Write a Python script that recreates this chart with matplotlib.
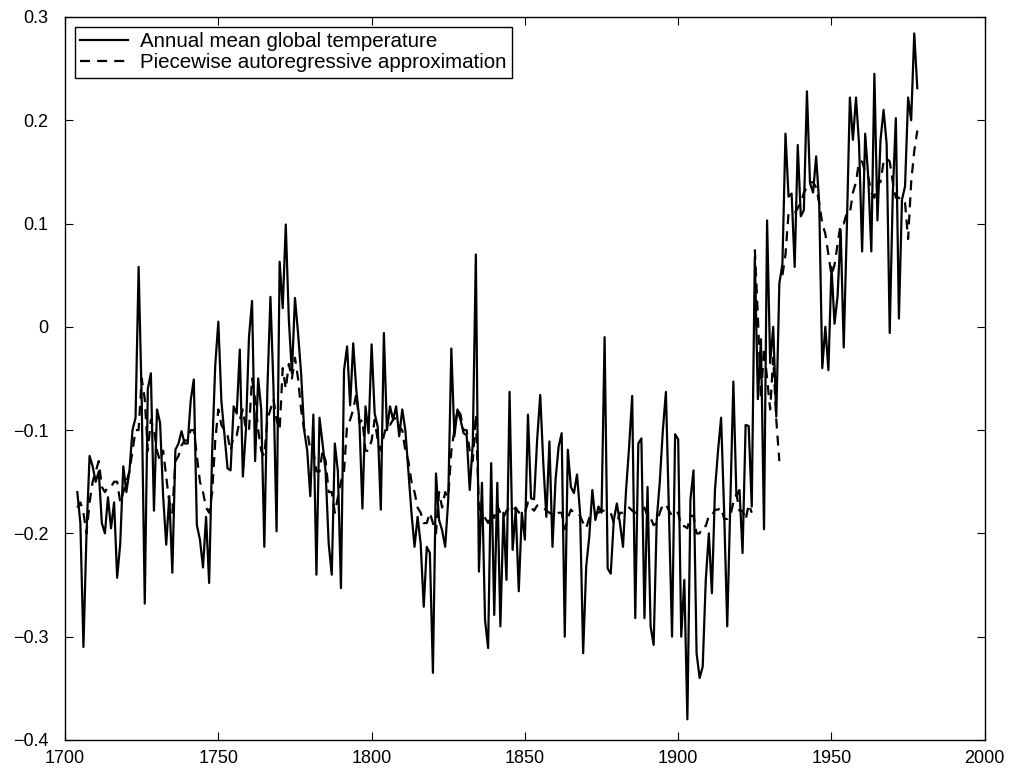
import numpy as np
import matplotlib
matplotlib.use("Agg")
import matplotlib.pyplot as plt

plt.rcParams["font.family"] = ["Liberation Sans", "DejaVu Sans"]

START_YEAR = 1704

# annual mean global temperature anomaly, one value per year from START_YEAR
temperature = [
    -0.16, -0.19, -0.31, -0.20, -0.125, -0.135, -0.15, -0.14, -0.19, -0.20,      # 1704
    -0.165, -0.195, -0.17, -0.243, -0.21, -0.135, -0.16, -0.14, -0.10, -0.088,   # 1714
    0.058, -0.07, -0.268, -0.06, -0.045, -0.178, -0.08, -0.093, -0.164, -0.211,  # 1724
    -0.164, -0.238, -0.119, -0.113, -0.101, -0.113, -0.113, -0.071, -0.051, -0.192,  # 1734
    -0.206, -0.233, -0.184, -0.248, -0.119, -0.037, 0.005, -0.072, -0.105, -0.137,   # 1744
    -0.139, -0.077, -0.084, -0.022, -0.145, -0.10, -0.01, 0.025, -0.13, -0.05,   # 1754
    -0.08, -0.213, -0.06, 0.029, -0.06, -0.198, 0.063, 0.018, 0.099, 0.007,      # 1764
    -0.045, 0.028, -0.006, -0.045, -0.10, -0.12, -0.164, -0.085, -0.24, -0.088,  # 1774
    -0.113, -0.14, -0.21, -0.24, -0.113, -0.14, -0.253, -0.042, -0.019, -0.076,  # 1784
    -0.016, -0.061, -0.09, -0.176, -0.077, -0.103, -0.017, -0.084, -0.097, -0.177,  # 1794
    -0.006, -0.10, -0.077, -0.09, -0.077, -0.106, -0.08, -0.10, -0.14, -0.18,    # 1804
    -0.213, -0.184, -0.21, -0.271, -0.213, -0.219, -0.335, -0.142, -0.187, -0.197,  # 1814
    -0.213, -0.167, -0.021, -0.106, -0.08, -0.09, -0.103, -0.105, -0.158, -0.113,   # 1824
    0.07, -0.237, -0.151, -0.284, -0.311, -0.132, -0.279, -0.151, -0.29, -0.18,  # 1834
    -0.245, -0.063, -0.216, -0.177, -0.256, -0.18, -0.206, -0.085, -0.166, -0.167,  # 1844
    -0.109, -0.066, -0.132, -0.184, -0.111, -0.213, -0.148, -0.116, -0.103, -0.30,  # 1854
    -0.119, -0.155, -0.161, -0.143, -0.18, -0.316, -0.232, -0.203, -0.158, -0.187,  # 1864
    -0.174, -0.18, -0.01, -0.234, -0.239, -0.187, -0.171, -0.19, -0.213, -0.158,  # 1874
    -0.116, -0.067, -0.282, -0.113, -0.108, -0.282, -0.155, -0.29, -0.308, -0.187,  # 1884
    -0.15, -0.10, -0.063, -0.18, -0.30, -0.104, -0.109, -0.30, -0.245, -0.38,    # 1894
    -0.167, -0.139, -0.316, -0.34, -0.329, -0.245, -0.20, -0.258, -0.158, -0.12,  # 1904
    -0.088, -0.18, -0.29, -0.17, -0.053, -0.164, -0.158, -0.219, -0.095, -0.096,  # 1914
    -0.174, 0.068, -0.07, -0.012, -0.196, 0.103, -0.035, 0.0, -0.087, 0.042,     # 1924
    0.061, 0.187, 0.126, 0.129, 0.058, 0.176, 0.107, 0.113, 0.228, 0.139,        # 1934
    0.13, 0.165, 0.12, -0.04, 0.0, -0.042, 0.058, 0.003, 0.03, 0.094,            # 1944
    -0.02, 0.094, 0.222, 0.181, 0.222, 0.177, 0.073, 0.187, 0.145, 0.073,        # 1954
    0.245, 0.103, 0.181, 0.21, 0.177, -0.006, 0.129, 0.202, 0.008, 0.123,        # 1964
    0.136, 0.222, 0.20, 0.284, 0.231,                                            # 1974
]

# piecewise autoregressive fit, same years
approximation = [
    -0.175, -0.17, -0.18, -0.20, -0.17, -0.15, -0.14, -0.13, -0.155, -0.16,      # 1704
    -0.155, -0.155, -0.15, -0.15, -0.17, -0.16, -0.15, -0.14, -0.12, -0.10,      # 1714
    -0.10, -0.05, -0.07, -0.12, -0.09, -0.10, -0.12, -0.13, -0.12, -0.145,       # 1724
    -0.17, -0.18, -0.13, -0.125, -0.115, -0.11, -0.11, -0.10, -0.10, -0.125,     # 1734
    -0.15, -0.16, -0.175, -0.18, -0.16, -0.11, -0.08, -0.095, -0.10, -0.105,     # 1744
    -0.12, -0.105, -0.105, -0.09, -0.08, -0.10, -0.10, -0.05, -0.07, -0.10,      # 1754
    -0.12, -0.125, -0.09, -0.08, -0.07, -0.09, -0.10, -0.04, -0.06, -0.036,      # 1764
    -0.05, -0.03, -0.05, -0.08, -0.10, -0.10, -0.12, -0.12, -0.14, -0.14,        # 1774
    -0.12, -0.13, -0.16, -0.16, -0.18, -0.165, -0.15, -0.14, -0.095, -0.09,      # 1784
    -0.08, -0.065, -0.093, -0.09, -0.12, -0.12, -0.11, -0.09, -0.11, -0.12,      # 1794
    -0.105, -0.095, -0.095, -0.09, -0.088, -0.097, -0.10, -0.12, -0.13, -0.15,   # 1804
    -0.16, -0.175, -0.18, -0.19, -0.19, -0.18, -0.19, -0.20, -0.16, -0.175,      # 1814
    -0.16, -0.165, -0.12, -0.10, -0.08, -0.085, -0.10, -0.10, -0.12, -0.13,      # 1824
    -0.085, -0.175, -0.18, -0.185, -0.19, -0.18, -0.185, -0.173, -0.18, -0.185,  # 1834
    -0.178, -0.175, -0.178, -0.175, -0.18, -0.178, -0.18, -0.17, -0.175, -0.178,  # 1844
    -0.173, -0.173, -0.175, -0.178, -0.18, -0.182, -0.183, -0.18, -0.18, -0.196,  # 1854
    -0.185, -0.177, -0.18, -0.18, -0.183, -0.19, -0.195, -0.185, -0.182, -0.18,   # 1864
    -0.18, -0.178, -0.178, -0.179, -0.18, -0.19, -0.19, -0.18, -0.18, -0.178,     # 1874
    -0.175, -0.178, -0.18, -0.18, -0.178, -0.175, -0.183, -0.185, -0.192, -0.19,  # 1884
    -0.18, -0.172, -0.172, -0.178, -0.183, -0.18, -0.18, -0.193, -0.193, -0.195,  # 1894
    -0.183, -0.183, -0.20, -0.20, -0.193, -0.193, -0.183, -0.183, -0.177, -0.177,  # 1904
    -0.175, -0.186, -0.186, -0.183, -0.17, -0.162, -0.178, -0.178, -0.187, -0.172,  # 1914
    -0.18, 0.075, 0.01, -0.07, -0.02, -0.05, -0.08, -0.03, -0.09, -0.13,         # 1924
    0.05, 0.07, 0.11, 0.11, 0.11, 0.115, 0.12, 0.13, 0.135, 0.14,                # 1934
    0.14, 0.135, 0.12, 0.10, 0.09, 0.07, 0.05, 0.06, 0.08, 0.10,                 # 1944
    0.10, 0.11, 0.11, 0.13, 0.14, 0.16, 0.16, 0.15, 0.145, 0.13,                 # 1954
    0.125, 0.14, 0.14, 0.16, 0.163, 0.16, 0.14, 0.125, 0.125, 0.12,              # 1964
    0.12, 0.085, 0.14, 0.17, 0.19,                                               # 1974
]

# first year of each fitted autoregressive segment after the first
segment_starts = [1925, 1934]

years = np.arange(START_YEAR, START_YEAR + len(temperature))
temp = np.array(temperature)
approx = np.array(approximation)

fig = plt.figure(figsize=(10.1, 7.7), dpi=100)
ax = fig.add_axes([0.0644, 0.039, 0.9106, 0.939])

ax.plot(years, temp, color="black", lw=1.6, label="Annual mean global temperature")

bounds = [years[0]] + segment_starts + [years[-1] + 1]
for k in range(len(bounds) - 1):
    m = (years >= bounds[k]) & (years < bounds[k + 1])
    ax.plot(years[m], approx[m], color="black", lw=1.6, dashes=(4.5, 3.2),
            label="Piecewise autoregressive approximation" if k == 0 else None)

ax.set_xlim(1700, 2000)
ax.set_ylim(-0.4, 0.3)
ax.set_xticks(np.arange(1700, 2001, 50))
ax.set_yticks(np.arange(-0.4, 0.31, 0.1))
ax.set_yticklabels(["\u22120.4", "\u22120.3", "\u22120.2", "\u22120.1", "0", "0.1", "0.2", "0.3"])
ax.tick_params(direction="in", top=True, right=True, length=6, width=0.8,
               labelsize=13)
ax.tick_params(axis="y", pad=12)
ax.tick_params(axis="x", pad=7)
for s in ax.spines.values():
    s.set_linewidth(1.0)

leg = ax.legend(loc="upper left", fontsize=14.8, frameon=True, fancybox=False,
                edgecolor="black", handlelength=2.3, handletextpad=0.6,
                borderpad=0.25, labelspacing=0.1, borderaxespad=0.5,
                framealpha=1)
leg.get_frame().set_linewidth(1.0)

fig.savefig("out.png", dpi=100)
